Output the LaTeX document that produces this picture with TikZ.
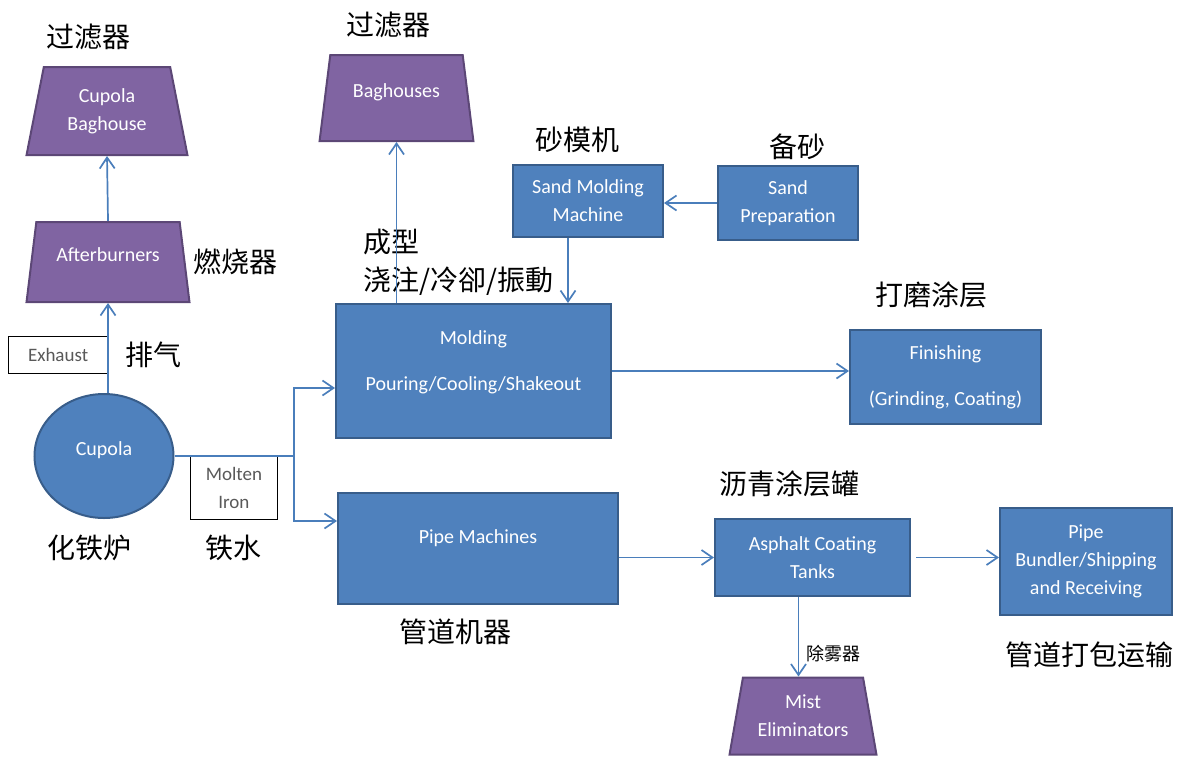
\documentclass[tikz,border=0pt]{standalone}
\usepackage{fontspec}
\setmainfont{Carlito}
\newfontfamily\cjk{Noto Sans CJK SC}
\usetikzlibrary{arrows.meta,positioning,shapes.geometric}
\definecolor{boxblue}{RGB}{79,129,189}
\definecolor{boxblueedge}{RGB}{56,93,138}
\definecolor{filterpurple}{RGB}{128,100,162}
\definecolor{filterpurpleedge}{RGB}{92,71,118}
\definecolor{flowblue}{RGB}{74,126,187}
\definecolor{notegray}{RGB}{89,89,89}

\begin{document}
\begin{tikzpicture}[
    x=1pt, y=-1pt,
    unit/.style={
      rectangle, draw=boxblueedge, line width=2pt, fill=boxblue,
      text=white, align=center, inner sep=2pt,
      font=\fontsize{20}{28}\selectfont
    },
    furnace/.style={
      ellipse, draw=boxblueedge, line width=2pt, fill=boxblue,
      text=white, inner sep=2pt, font=\fontsize{20}{28}\selectfont
    },
    filter/.style={
      trapezium, trapezium left angle=77, trapezium right angle=77,
      trapezium stretches=true, draw=filterpurpleedge, line width=2pt,
      fill=filterpurple, text=white, align=center, inner sep=2pt,
      font=\fontsize{20}{28}\selectfont
    },
    note/.style={
      rectangle, draw=black, line width=0.8pt, fill=white,
      text=notegray, align=center, inner sep=2pt,
      font=\fontsize{19}{28}\selectfont
    },
    zh/.style={font=\cjk\fontsize{28}{38}\selectfont, inner sep=0pt},
    flow/.style={-{Straight Barb[length=11pt, width=15pt]}, line width=1.7pt, draw=flowblue}
  ]
    \useasboundingbox (0,0) rectangle (1179,756);

    % cupola side
    \node[filter, minimum width=161pt, minimum height=88pt] (cbag) at (107,111) {Cupola\\Baghouse};
    \node[filter, minimum width=163pt, minimum height=80pt, text depth=14pt] (after) at (108,262) {Afterburners};
    \node[furnace, minimum width=139pt, minimum height=124pt, text depth=14pt] (cupola) at (104,456) {Cupola};
    \node[note, minimum width=99pt, minimum height=37pt, anchor=east] (exhaust) at (108,355) {Exhaust};
    \node[note, minimum width=87pt, minimum height=63pt, anchor=north west] (molten) at (190,456) {Molten\\Iron};
    \coordinate (split) at (294,456);

    % main line
    \node[filter, minimum width=154pt, minimum height=86pt, text depth=14pt] (baghouses) at (396.5,98) {Baghouses};
    \node[unit, minimum width=275pt, minimum height=134pt, text depth=20pt] (molding) at (473.5,371) {Molding\\[18pt]Pouring/Cooling/Shakeout};
    \node[unit, minimum width=150pt, minimum height=72pt] (sandmold) at (588,201) {Sand Molding\\Machine};
    \node[unit, minimum width=140pt, minimum height=74pt] (sandprep) at (788,203) {Sand\\Preparation};
    \node[unit, minimum width=191pt, minimum height=94pt] (finish) at (945.5,377) {Finishing\\[18pt](Grinding, Coating)};
    \node[unit, minimum width=280pt, minimum height=111pt, text depth=24pt] (pipemach) at (478,548.5) {Pipe Machines};
    \node[unit, minimum width=195pt, minimum height=77pt] (asphalt) at (812.5,557.5) {Asphalt Coating\\Tanks};
    \node[unit, minimum width=172pt, minimum height=107pt] (bundler) at (1086,561.5) {Pipe\\Bundler/Shipping\\and Receiving};
    \node[filter, minimum width=147pt, minimum height=77pt] (mist) at (803,716) {Mist\\Eliminators};

    % chinese labels
    \node[zh, above=16pt of cbag, xshift=-19pt] (cbagzh) {过滤器};
    \node[zh, right=8pt of after] (afterzh) {燃烧器};
    \node[zh, right=17pt of exhaust] (exhaustzh) {排气};
    \node[zh, below=16pt of cupola, xshift=-15pt] (cupolazh) {化铁炉};
    \node[zh, below=15pt of molten] (moltenzh) {铁水};
    \node[zh, above=16pt of baghouses, xshift=-8pt] (baghouseszh) {过滤器};
    \node[zh, align=left, anchor=north west] (moldingzh) at (363,229) {成型\\浇注/冷卻/振動};
    \node[zh, above=11pt of sandmold, xshift=-11pt] (sandmoldzh) {砂模机};
    \node[zh, above=5pt of sandprep, xshift=9pt] (sandprepzh) {备砂};
    \node[zh, above=21pt of finish, xshift=-14pt] (finishzh) {打磨涂层};
    \node[zh, above=21pt of asphalt, xshift=-23pt] (asphaltzh) {沥青涂层罐};
    \node[zh, below=14pt of pipemach, xshift=-23pt] (pipemachzh) {管道机器};
    \node[zh, below=26pt of bundler, xshift=3pt] (bundlerzh) {管道打包运输};

    % flows
    \draw[flow] (after.north) -- (cbag.south);
    \draw[flow] (cupola.north -| after.south) -- (after.south);
    \draw[flow] (cupola.east) -- (split) |- ([yshift=-17pt]molding.west);
    \draw[flow] (split) |- ([yshift=27.5pt]pipemach.west);
    \draw[flow] (baghouses.south |- molding.north) -- (baghouses.south);
    \draw[flow] ([xshift=-20pt]sandmold.south) -- ([xshift=-20pt]sandmold.south |- molding.north);
    \draw[flow] (sandprep.west) -- (sandprep.west -| sandmold.east);
    \draw[flow] (molding.east) -- (molding.east -| finish.west);
    \draw[flow] (pipemach.east |- asphalt.west) -- (asphalt.west);
    \draw[flow, shorten <=5pt] (asphalt.east) -- (asphalt.east -| bundler.west);
    \draw[flow] ([xshift=-14pt]asphalt.south) -- ([xshift=-14pt]asphalt.south |- mist.north)
      node[pos=0.71, right=4pt, font=\cjk\fontsize{18}{22}\selectfont] (mistzh) {除雾器};
  \end{tikzpicture}
\end{document}
